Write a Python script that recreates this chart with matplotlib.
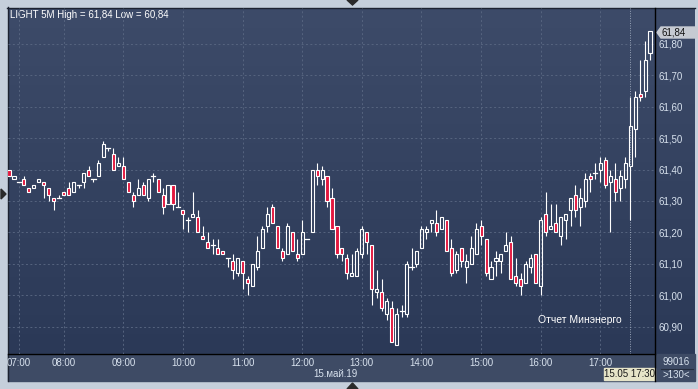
import matplotlib
matplotlib.use('Agg')
import matplotlib.pyplot as plt
import matplotlib.colors as mcolors
from matplotlib.patches import Rectangle, Polygon
import numpy as np

plt.rcParams['font.family'] = ['Liberation Sans', 'DejaVu Sans']

# 5-minute bars, LIGHT, 15 May 2019
opens = [61.40, 61.37, 61.36, 61.37, 61.34, 61.34, 61.36, 61.36, 61.34, 61.31,
         61.31, 61.33, 61.34, 61.33, 61.35, 61.36, 61.40, 61.37, 61.38, 61.44,
         61.47, 61.45, 61.41, 61.41, 61.36, 61.32, 61.32, 61.35, 61.31, 61.38,
         61.37, 61.32, 61.29, 61.35, 61.28, 61.27, 61.24, 61.25, 61.25, 61.19,
         61.17, 61.16, 61.15, 61.14, 61.12, 61.11, 61.07, 61.11, 61.05, 61.03,
         61.09, 61.15, 61.22, 61.28, 61.22, 61.14, 61.13, 61.20, 61.13, 61.13,
         61.18, 61.20, 61.40, 61.37, 61.38, 61.31, 61.22, 61.15, 61.12, 61.06,
         61.06, 61.13, 61.20, 61.16, 61.01, 61.01, 60.94, 60.96, 60.84, 60.95,
         60.94, 61.09, 61.10, 61.15, 61.20, 61.23, 61.23, 61.21, 61.24, 61.15,
         61.08, 61.15, 61.09, 61.10, 61.13, 61.22, 61.18, 61.05, 61.11, 61.11,
         61.14, 61.17, 61.06, 61.05, 61.04, 61.09, 61.13, 61.03, 61.26, 61.21,
         61.23, 61.19, 61.24, 61.27, 61.32, 61.28, 61.30, 61.38, 61.39, 61.40,
         61.43, 61.36, 61.37, 61.34, 61.37, 61.41, 61.53, 61.64, 61.65, 61.77]
highs = [61.40, 61.38, 61.36, 61.38, 61.34, 61.35, 61.37, 61.36, 61.34, 61.31,
         61.32, 61.33, 61.36, 61.36, 61.35, 61.39, 61.41, 61.37, 61.43, 61.49,
         61.47, 61.47, 61.44, 61.44, 61.36, 61.33, 61.37, 61.36, 61.37, 61.39,
         61.37, 61.34, 61.35, 61.35, 61.33, 61.27, 61.25, 61.33, 61.27, 61.22,
         61.20, 61.18, 61.18, 61.14, 61.12, 61.13, 61.12, 61.11, 61.06, 61.10,
         61.19, 61.22, 61.28, 61.29, 61.22, 61.15, 61.23, 61.20, 61.18, 61.24,
         61.18, 61.40, 61.42, 61.41, 61.38, 61.34, 61.22, 61.15, 61.13, 61.13,
         61.15, 61.22, 61.20, 61.16, 61.08, 61.05, 60.99, 60.98, 60.96, 60.97,
         61.11, 61.15, 61.14, 61.22, 61.22, 61.24, 61.27, 61.25, 61.24, 61.18,
         61.14, 61.15, 61.13, 61.19, 61.23, 61.24, 61.18, 61.11, 61.14, 61.13,
         61.20, 61.19, 61.12, 61.07, 61.11, 61.13, 61.13, 61.25, 61.33, 61.29,
         61.29, 61.25, 61.26, 61.31, 61.35, 61.34, 61.39, 61.39, 61.42, 61.44,
         61.44, 61.40, 61.42, 61.40, 61.44, 61.63, 61.65, 61.75, 61.81, 61.84]
lows = [61.38, 61.37, 61.36, 61.35, 61.33, 61.34, 61.36, 61.31, 61.30, 61.27,
        61.31, 61.32, 61.32, 61.33, 61.34, 61.34, 61.38, 61.36, 61.38, 61.44,
        61.46, 61.40, 61.41, 61.37, 61.33, 61.28, 61.32, 61.32, 61.30, 61.36,
        61.33, 61.26, 61.29, 61.27, 61.28, 61.21, 61.20, 61.25, 61.20, 61.18,
        61.15, 61.13, 61.13, 61.13, 61.09, 61.05, 61.06, 61.02, 61.00, 61.03,
        61.08, 61.15, 61.20, 61.23, 61.15, 61.11, 61.13, 61.14, 61.11, 61.13,
        61.18, 61.20, 61.35, 61.35, 61.28, 61.21, 61.12, 61.11, 61.05, 61.06,
        61.06, 61.12, 61.13, 60.97, 60.99, 60.95, 60.92, 60.85, 60.84, 60.93,
        60.93, 61.08, 61.09, 61.15, 61.18, 61.20, 61.19, 61.21, 61.14, 61.06,
        61.07, 61.09, 61.04, 61.10, 61.13, 61.16, 61.06, 61.05, 61.06, 61.07,
        61.14, 61.05, 61.03, 61.00, 61.04, 61.07, 61.04, 61.00, 61.19, 61.21,
        61.20, 61.16, 61.18, 61.22, 61.25, 61.22, 61.28, 61.33, 61.37, 61.36,
        61.34, 61.20, 61.30, 61.30, 61.34, 61.24, 61.44, 61.62, 61.63, 61.75]
closes = [61.38, 61.38, 61.36, 61.35, 61.33, 61.35, 61.37, 61.35, 61.32, 61.30,
          61.31, 61.32, 61.32, 61.36, 61.35, 61.39, 61.38, 61.37, 61.42, 61.48,
          61.47, 61.40, 61.42, 61.37, 61.33, 61.30, 61.34, 61.32, 61.37, 61.38,
          61.33, 61.28, 61.35, 61.29, 61.28, 61.26, 61.24, 61.26, 61.20, 61.18,
          61.15, 61.16, 61.13, 61.13, 61.12, 61.08, 61.12, 61.07, 61.04, 61.10,
          61.14, 61.21, 61.26, 61.23, 61.15, 61.12, 61.22, 61.14, 61.12, 61.20,
          61.18, 61.40, 61.38, 61.40, 61.30, 61.21, 61.13, 61.13, 61.07, 61.07,
          61.14, 61.21, 61.17, 61.02, 61.02, 60.96, 60.98, 60.85, 60.94, 60.95,
          61.10, 61.09, 61.14, 61.21, 61.21, 61.24, 61.20, 61.25, 61.14, 61.07,
          61.13, 61.11, 61.11, 61.15, 61.21, 61.19, 61.07, 61.09, 61.12, 61.13,
          61.16, 61.05, 61.04, 61.03, 61.10, 61.12, 61.04, 61.24, 61.20, 61.22,
          61.20, 61.25, 61.26, 61.31, 61.27, 61.31, 61.37, 61.37, 61.39, 61.42,
          61.35, 61.38, 61.33, 61.38, 61.42, 61.54, 61.63, 61.63, 61.75, 61.84]

hour_labels = ['07:00', '08:00', '09:00', '10:00', '11:00', '12:00',
               '13:00', '14:00', '15:00', '16:00', '17:00']
hour_bars = [2, 11, 23, 35, 47, 59, 71, 83, 95, 107, 119]
price_ticks = [60.9, 61.0, 61.1, 61.2, 61.3, 61.4, 61.5, 61.6, 61.7, 61.8]
cursor_bar = 125
cursor_label = '15.05 17:30'
date_label = '15.май.19'
title = 'LIGHT 5M High = 61,84 Low = 60,84'
last_label = '61,84'
note = 'Отчет Минэнерго'
volume_text = '99016'
bars_text = '>130<'

W, H = 698, 389
txt = '#d8e2ee'
fig = plt.figure(figsize=(W / 100, H / 100), dpi=100, facecolor='#c5cfdb')

# frame / background in pixel coordinates
bg = fig.add_axes([0, 0, 1, 1])
bg.axis('off')
top = np.array(mcolors.to_rgb('#3d4b69'))
bot = np.array(mcolors.to_rgb('#2b3957'))
g = np.linspace(0, 1, 256)[:, None, None]
bg.imshow(top + (bot - top) * g, extent=(8, 695, 354, 8), aspect='auto',
          interpolation='bilinear')
bg.add_patch(Rectangle((8, 354), 687, 27, color='#3e4b65'))
bg.plot([7, 695], [7.5, 7.5], color='#1c2230', lw=1)
bg.plot([7.5, 7.5], [7, 381], color='#1c2230', lw=1)
bg.plot([8, 655], [354, 354], color='black', lw=1)
bg.plot([655, 655], [8, 381], color='black', lw=1)
bg.plot([661, 693], [369, 369], color='#252d3e', lw=0.8)
bg.add_patch(Polygon([(347, 0), (358, 0), (352.5, 5)], color='#2a2a2a'))
bg.add_patch(Polygon([(347, 389), (358, 389), (352.5, 383)], color='#2a2a2a'))
bg.add_patch(Polygon([(1, 189), (1, 199), (6, 194)], color='#2a2a2a'))
bg.add_patch(Polygon([(657, 32.5), (661, 27), (697, 27), (697, 38), (661, 38)],
                     color='#c6cad2'))
bg.text(662, 32.5, last_label, fontsize=7, color='#111111', va='center')
bg.add_patch(Rectangle((604, 368), 51, 12, color='#e6e4c8'))
bg.text(629.5, 374, cursor_label, fontsize=7, color='#1a1a1a', ha='center', va='center')
bg.text(335, 374, date_label, fontsize=7, color=txt, ha='center', va='center')
bg.text(676, 362, volume_text, fontsize=7, color=txt, ha='center', va='center')
bg.text(676, 375, bars_text, fontsize=7, color=txt, ha='center', va='center')
bg.text(10, 14.5, title, fontsize=7, color='white', va='center')
bg.set_xlim(0, W)
bg.set_ylim(H, 0)

# price panel
ax = fig.add_axes([8 / W, (H - 354) / H, 647 / W, 346 / H])
ax.set_facecolor('none')
for s in ax.spines.values():
    s.set_visible(False)
ax.set_xlim(-0.2, 130.0)
ax.set_ylim(60.8127, 61.9146)
ax.set_yticks(price_ticks)
ax.set_yticklabels([f'{v:.2f}'.replace('.', ',') for v in price_ticks])
ax.yaxis.tick_right()
ax.tick_params(axis='y', length=0, pad=2.5, labelsize=7, labelcolor=txt)
ax.set_xticks(hour_bars)
ax.set_xticklabels(hour_labels)
ax.tick_params(axis='x', length=0, pad=3, labelsize=7, labelcolor=txt)
ax.grid(True, color='#56647f', lw=0.7, linestyle=(0, (2, 2.5)))
ax.set_axisbelow(True)
ax.axvline(cursor_bar, color='#98a4b8', lw=0.7, linestyle=(0, (1, 1.5)))

bw = 0.62
for i, (o, h, l, c) in enumerate(zip(opens, highs, lows, closes)):
    hi_b, lo_b = max(o, c), min(o, c)
    if h > hi_b:
        ax.plot([i, i], [hi_b, h], color='white', lw=0.8, solid_capstyle='butt')
    if l < lo_b:
        ax.plot([i, i], [l, lo_b], color='white', lw=0.8, solid_capstyle='butt')
    if o == c:
        ax.plot([i - bw / 2 - 0.1, i + bw / 2 + 0.1], [o, o], color='white', lw=0.9)
    else:
        ax.add_patch(Rectangle((i - bw / 2, lo_b), bw, hi_b - lo_b,
                               facecolor='#e3173e' if c < o else 'none',
                               edgecolor='white', lw=0.8))

ax.text(106.5, 60.921, note, fontsize=7.5, color='white', va='center')

fig.savefig('out.png', dpi=100, facecolor=fig.get_facecolor())
